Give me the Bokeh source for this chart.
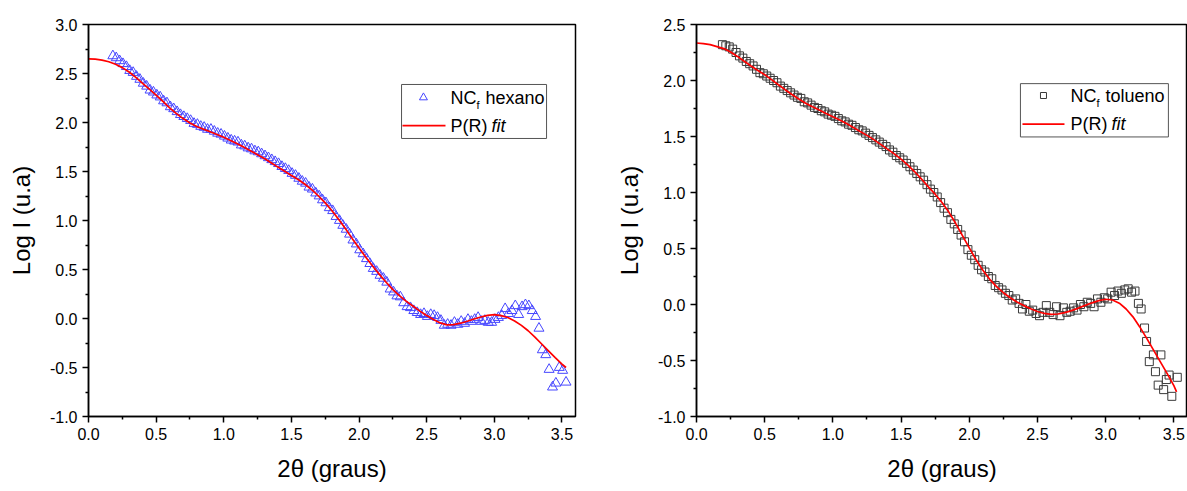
from bokeh.plotting import figure
from bokeh.models import Range1d, FixedTicker, PrintfTickFormatter, Label
from bokeh.layouts import row
from bokeh.embed import file_html
from bokeh.resources import INLINE

# ---------------- data: NC_f hexano ----------------
hex_x = [
    0.180, 0.205, 0.230, 0.255, 0.280, 0.305, 0.330, 0.355, 0.380, 0.405,
    0.430, 0.455, 0.480, 0.505, 0.530, 0.555, 0.580, 0.605, 0.630, 0.655,
    0.680, 0.705, 0.730, 0.755, 0.780, 0.805, 0.830, 0.855, 0.880, 0.905,
    0.930, 0.955, 0.980, 1.005, 1.030, 1.055, 1.080, 1.105, 1.130, 1.155,
    1.180, 1.205, 1.230, 1.255, 1.280, 1.305, 1.330, 1.355, 1.380, 1.405,
    1.430, 1.455, 1.480, 1.505, 1.530, 1.555, 1.580, 1.605, 1.630, 1.655,
    1.680, 1.705, 1.730, 1.755, 1.780, 1.805, 1.830, 1.855, 1.880, 1.905,
    1.930, 1.955, 1.980, 2.005, 2.030, 2.055, 2.080, 2.105, 2.130, 2.155,
    2.180, 2.205, 2.230, 2.255, 2.280, 2.305, 2.330, 2.355, 2.380, 2.405,
    2.430, 2.455, 2.480, 2.505, 2.530, 2.555, 2.580, 2.605, 2.630, 2.655,
    2.680, 2.705, 2.730, 2.755, 2.780, 2.805, 2.830, 2.855, 2.880, 2.905,
    2.930, 2.955, 2.980, 3.005, 3.030, 3.055, 3.080, 3.105, 3.130, 3.155,
    3.180, 3.205, 3.230, 3.255, 3.280, 3.305, 3.330, 3.355, 3.380, 3.405,
    3.430, 3.455, 3.480, 3.505, 3.530,
]
hex_y = [
    2.68, 2.66, 2.63, 2.60, 2.57, 2.53, 2.51, 2.47, 2.44, 2.40,
    2.37, 2.33, 2.31, 2.28, 2.26, 2.22, 2.20, 2.16, 2.14, 2.11,
    2.08, 2.06, 2.04, 2.02, 1.99, 1.98, 1.96, 1.95, 1.93, 1.93,
    1.91, 1.89, 1.88, 1.86, 1.84, 1.82, 1.81, 1.80, 1.77, 1.76,
    1.74, 1.73, 1.71, 1.70, 1.68, 1.66, 1.64, 1.62, 1.60, 1.58,
    1.55, 1.53, 1.51, 1.48, 1.46, 1.43, 1.40, 1.38, 1.34, 1.32,
    1.28, 1.25, 1.21, 1.18, 1.13, 1.10, 1.04, 1.00, 0.95, 0.91,
    0.86, 0.80, 0.76, 0.70, 0.66, 0.61, 0.56, 0.51, 0.48, 0.44,
    0.41, 0.37, 0.30, 0.27, 0.23, 0.22, 0.16, 0.12, 0.11, 0.08,
    0.06, 0.04, 0.05, 0.02, 0.04, 0.03, 0.01, -0.02, -0.07, -0.06,
    -0.07, -0.04, -0.06, -0.03, -0.05, -0.01, -0.03, -0.01, 0.01, -0.03,
    -0.02, -0.04, -0.04, -0.01, 0.01, 0.03, 0.10, 0.05, 0.08, 0.13,
    0.04, 0.12, 0.14, 0.13, 0.08, 0.02, -0.10, -0.32, -0.37, -0.52,
    -0.70, -0.66, -0.50, -0.53, -0.65,
]
hex_fit_x = [
    0.00, 0.05, 0.10, 0.15, 0.20, 0.25, 0.30, 0.35, 0.40, 0.45,
    0.50, 0.55, 0.60, 0.65, 0.70, 0.75, 0.80, 0.85, 0.90, 0.95,
    1.00, 1.05, 1.10, 1.15, 1.20, 1.25, 1.30, 1.35, 1.40, 1.45,
    1.50, 1.55, 1.60, 1.65, 1.70, 1.75, 1.80, 1.85, 1.90, 1.95,
    2.00, 2.05, 2.10, 2.15, 2.20, 2.25, 2.30, 2.35, 2.40, 2.45,
    2.50, 2.55, 2.60, 2.65, 2.70, 2.75, 2.80, 2.85, 2.90, 2.95,
    3.00, 3.05, 3.10, 3.15, 3.20, 3.25, 3.30, 3.35, 3.40, 3.45,
    3.50, 3.53,
]
hex_fit_y = [
    2.650, 2.647, 2.637, 2.620, 2.595, 2.560, 2.515, 2.460, 2.400, 2.340,
    2.280, 2.215, 2.150, 2.090, 2.040, 1.995, 1.960, 1.932, 1.905, 1.878,
    1.850, 1.817, 1.783, 1.747, 1.710, 1.672, 1.632, 1.590, 1.545, 1.502,
    1.460, 1.418, 1.370, 1.315, 1.250, 1.180, 1.100, 1.010, 0.915, 0.815,
    0.720, 0.625, 0.535, 0.450, 0.370, 0.295, 0.230, 0.175, 0.125, 0.075,
    0.030, -0.010, -0.045, -0.065, -0.062, -0.048, -0.028, -0.005, 0.015, 0.032,
    0.040, 0.030, 0.010, -0.025, -0.070, -0.125, -0.190, -0.260, -0.330, -0.400,
    -0.465, -0.500,
]

# ---------------- data: NC_f tolueno ----------------
tol_x = [
    0.190, 0.215, 0.240, 0.265, 0.290, 0.315, 0.340, 0.365, 0.390, 0.415,
    0.440, 0.465, 0.490, 0.515, 0.540, 0.565, 0.590, 0.615, 0.640, 0.665,
    0.690, 0.715, 0.740, 0.765, 0.790, 0.815, 0.840, 0.865, 0.890, 0.915,
    0.940, 0.965, 0.990, 1.015, 1.040, 1.065, 1.090, 1.115, 1.140, 1.165,
    1.190, 1.215, 1.240, 1.265, 1.290, 1.315, 1.340, 1.365, 1.390, 1.415,
    1.440, 1.465, 1.490, 1.515, 1.540, 1.565, 1.590, 1.615, 1.640, 1.665,
    1.690, 1.715, 1.740, 1.765, 1.790, 1.815, 1.840, 1.865, 1.890, 1.915,
    1.940, 1.965, 1.990, 2.015, 2.040, 2.065, 2.090, 2.115, 2.140, 2.165,
    2.190, 2.215, 2.240, 2.265, 2.290, 2.315, 2.340, 2.365, 2.390, 2.415,
    2.440, 2.465, 2.490, 2.515, 2.540, 2.565, 2.590, 2.615, 2.640, 2.665,
    2.690, 2.715, 2.740, 2.765, 2.790, 2.815, 2.840, 2.865, 2.890, 2.915,
    2.940, 2.965, 2.990, 3.015, 3.040, 3.065, 3.090, 3.115, 3.140, 3.165,
    3.190, 3.215, 3.240,
    3.260, 3.285, 3.300, 3.320, 3.350, 3.365, 3.385, 3.405, 3.425, 3.445,
    3.465, 3.485, 3.525,
]
tol_y = [
    2.32, 2.31, 2.30, 2.28, 2.25, 2.22, 2.20, 2.17, 2.15, 2.13,
    2.10, 2.07, 2.06, 2.04, 2.02, 2.00, 1.98, 1.95, 1.93, 1.91,
    1.89, 1.87, 1.85, 1.84, 1.81, 1.80, 1.78, 1.76, 1.75, 1.73,
    1.72, 1.70, 1.69, 1.68, 1.66, 1.64, 1.63, 1.61, 1.60, 1.58,
    1.56, 1.55, 1.53, 1.51, 1.49, 1.47, 1.45, 1.43, 1.41, 1.38,
    1.36, 1.33, 1.31, 1.29, 1.26, 1.23, 1.20, 1.17, 1.14, 1.11,
    1.07, 1.03, 1.00, 0.96, 0.91, 0.86, 0.82, 0.76, 0.72, 0.67,
    0.62, 0.56, 0.49, 0.44, 0.40, 0.35, 0.31, 0.29, 0.25, 0.23,
    0.17, 0.15, 0.13, 0.10, 0.08, 0.04, 0.05, 0.01, -0.04, 0.00,
    -0.06, -0.05, -0.08, -0.10, -0.07, -0.01, -0.07, -0.09, -0.02, -0.10,
    -0.03, -0.07, -0.06, -0.03, -0.05, 0.00, -0.02, 0.02, 0.01, -0.02,
    0.05, 0.02, 0.06, 0.05, 0.11, 0.08, 0.12, 0.10, 0.13, 0.14,
    0.11, 0.12, 0.01,
    -0.04, -0.21, -0.33, -0.51, -0.45, -0.60, -0.72, -0.45, -0.76, -0.67,
    -0.63, -0.82, -0.65,
]
tol_fit_x = [
    0.00, 0.05, 0.10, 0.15, 0.20, 0.25, 0.30, 0.35, 0.40, 0.45,
    0.50, 0.55, 0.60, 0.65, 0.70, 0.75, 0.80, 0.85, 0.90, 0.95,
    1.00, 1.05, 1.10, 1.15, 1.20, 1.25, 1.30, 1.35, 1.40, 1.45,
    1.50, 1.55, 1.60, 1.65, 1.70, 1.75, 1.80, 1.85, 1.90, 1.95,
    2.00, 2.05, 2.10, 2.15, 2.20, 2.25, 2.30, 2.35, 2.40, 2.45,
    2.50, 2.55, 2.60, 2.65, 2.70, 2.75, 2.80, 2.85, 2.90, 2.95,
    3.00, 3.05, 3.10, 3.15, 3.20, 3.25, 3.30, 3.35, 3.40, 3.45,
    3.50, 3.52,
]
tol_fit_y = [
    2.335, 2.330, 2.320, 2.303, 2.285, 2.255, 2.215, 2.172, 2.130, 2.090,
    2.052, 2.008, 1.962, 1.918, 1.875, 1.835, 1.797, 1.765, 1.736, 1.706,
    1.677, 1.647, 1.616, 1.581, 1.545, 1.510, 1.472, 1.430, 1.387, 1.345,
    1.298, 1.245, 1.185, 1.120, 1.050, 0.985, 0.910, 0.825, 0.725, 0.615,
    0.505, 0.400, 0.305, 0.225, 0.160, 0.105, 0.060, 0.022, -0.010, -0.038,
    -0.062, -0.080, -0.088, -0.085, -0.073, -0.055, -0.032, -0.008, 0.015, 0.035,
    0.047, 0.040, 0.012, -0.040, -0.110, -0.200, -0.300, -0.405, -0.510, -0.615,
    -0.725, -0.780,
]

# ---------------- ticks / labels ----------------
x_major = [0.0, 0.5, 1.0, 1.5, 2.0, 2.5, 3.0, 3.5]
x_minor = [0.25, 0.75, 1.25, 1.75, 2.25, 2.75, 3.25]
y_major_left = [-1.0, -0.5, 0.0, 0.5, 1.0, 1.5, 2.0, 2.5, 3.0]
y_minor_left = [-0.75, -0.25, 0.25, 0.75, 1.25, 1.75, 2.25, 2.75]
y_major_right = [-1.0, -0.5, 0.0, 0.5, 1.0, 1.5, 2.0, 2.5]
y_minor_right = [-0.75, -0.25, 0.25, 0.75, 1.25, 1.75, 2.25]
x_label = "2θ (graus)"
y_label = "Log I (u.a)"
series_names = ["hexano", "tolueno"]
fit_name = ["P(R)", "fit"]

FONT = "Liberation Sans"


def make_panel(width, border, y_range, y_major, y_minor):
    p = figure(width=width, height=491, output_backend="svg", toolbar_location=None,
               x_range=Range1d(0, 3.6), y_range=Range1d(*y_range),
               min_border_left=border[0], min_border_right=border[1],
               min_border_top=border[2], min_border_bottom=border[3],
               background_fill_color="white", border_fill_color="white")
    p.xgrid.visible = False
    p.ygrid.visible = False
    p.outline_line_color = "black"
    p.outline_line_width = 1.5
    p.outline_line_alpha = 1.0
    p.xaxis.ticker = FixedTicker(ticks=x_major, minor_ticks=x_minor)
    p.yaxis.ticker = FixedTicker(ticks=y_major, minor_ticks=y_minor)
    for ax in (p.xaxis, p.yaxis):
        ax.formatter = PrintfTickFormatter(format="%.1f")
        ax.axis_line_color = "black"
        ax.axis_line_width = 1.5
        ax.major_tick_line_color = "black"
        ax.major_tick_line_width = 1.5
        ax.minor_tick_line_color = "black"
        ax.minor_tick_line_width = 1.5
        ax.major_tick_in = 0
        ax.major_tick_out = 6
        ax.minor_tick_in = 0
        ax.minor_tick_out = 3
        ax.major_label_text_font = FONT
        ax.major_label_text_font_size = "16px"
        ax.major_label_text_color = "black"
        ax.major_label_standoff = 5
        ax.axis_label_text_font = FONT
        ax.axis_label_text_font_size = "24px"
        ax.axis_label_text_font_style = "normal"
        ax.axis_label_text_color = "black"
        ax.axis_label_standoff = 12
    p.xaxis.axis_label = x_label
    p.yaxis.axis_label = y_label
    return p


def add_legend(p, box, mk, line_seg, name, marker, mcolor, sub_dy, msize):
    # box: left, right, top, bottom (data coords)
    p.quad(left=[box[0]], right=[box[1]], top=[box[2]], bottom=[box[3]],
           fill_color="white", line_color="#555555", line_width=1)
    p.scatter([mk[0]], [mk[1]], marker=marker, size=msize, fill_color=None,
              line_color=mcolor, line_width=1)
    p.line([line_seg[0], line_seg[1]], [line_seg[2], line_seg[2]],
           line_color="red", line_width=1.7)
    tx = mk[2]
    common = dict(text_font=FONT, text_color="black", text_baseline="middle")
    p.add_layout(Label(x=tx, y=mk[1], text="NC", text_font_size="18px", **common))
    p.add_layout(Label(x=tx, y=mk[1] - sub_dy, x_offset=26, text="f",
                       text_font_size="11px", **common))
    p.add_layout(Label(x=tx, y=mk[1], x_offset=35, text=name,
                       text_font_size="18px", **common))
    p.add_layout(Label(x=tx, y=line_seg[2], text=fit_name[0],
                       text_font_size="18px", **common))
    p.add_layout(Label(x=tx, y=line_seg[2], x_offset=41, text=fit_name[1],
                       text_font_size="18px", text_font_style="italic", **common))


# ---------------- left panel ----------------
p1 = make_panel(600, (88, 25, 24, 75), (-1, 3), y_major_left, y_minor_left)
p1.scatter(hex_x, hex_y, marker="triangle", size=10, fill_color=None,
           line_color="#4646ff", line_width=1)
p1.line(hex_fit_x, hex_fit_y, line_color="red", line_width=1.7)
add_legend(p1, (2.314, 3.386, 2.388, 1.837), (2.476, 2.255, 2.676),
           (2.321, 2.639, 1.969), series_names[0], "triangle", "#4646ff", 0.08, 8)

# ---------------- right panel ----------------
p2 = make_panel(587, (96, 0, 22, 72), (-1, 2.5), y_major_right, y_minor_right)
p2.scatter(tol_x, tol_y, marker="square", size=8, fill_color=None,
           line_color="#3a3a3a", line_width=1)
p2.line(tol_fit_x, tol_fit_y, line_color="red", line_width=1.7)
add_legend(p2, (2.375, 3.460, 1.972, 1.496), (2.544, 1.866, 2.742),
           (2.390, 2.698, 1.610), series_names[1], "square", "#3a3a3a", 0.07, 6)

layout = row(p1, p2)
open("out.html", "w").write(file_html(layout, INLINE))
